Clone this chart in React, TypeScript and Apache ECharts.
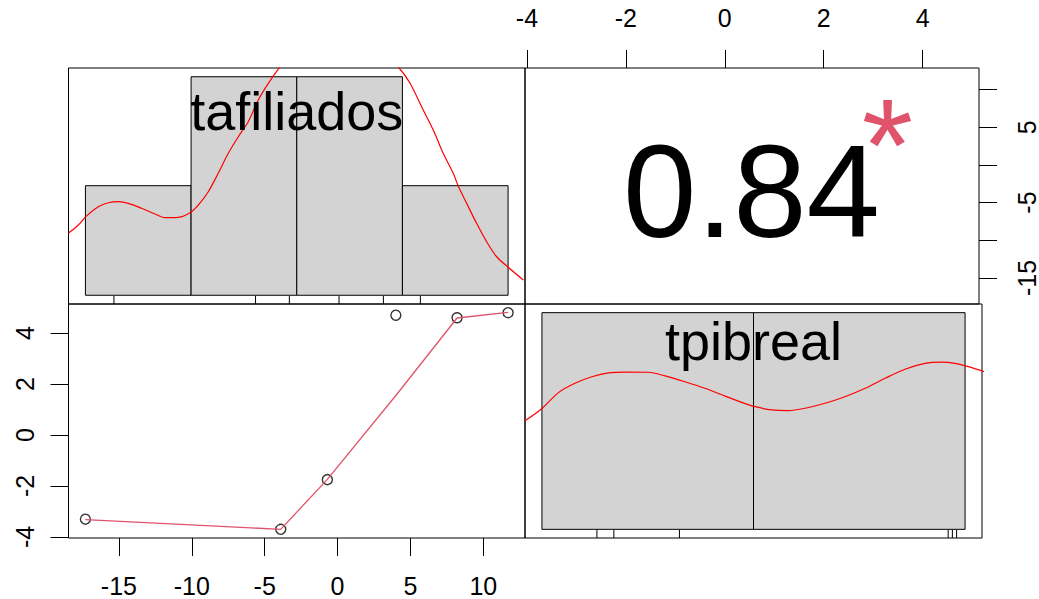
import React, { useEffect, useRef } from "react";
import * as echarts from "echarts";

// ---- data ----
const tafiliados = [-17.3, -3.9, -0.7, 4.0, 8.2, 11.7];
const tpibreal = [-3.3, -3.7, -1.75, 4.7, 4.6, 4.8];
const lowessFit = [-3.32, -3.7, -1.74, 1.55, 4.59, 4.81];

const tafBreaks = [-20, -10, 0, 10, 20];
const tafDensity = [0.0167, 0.0333, 0.0333, 0.0167];
const tpiBreaks = [-5, 0, 5];
const tpiDensity = [0.1, 0.1];

const tafKdeX = [-21.62, -20.67, -19.88, -18.78, -17.83, -16.89, -15.94, -14.67, -13.41, -12.47, -11.21, -10.1, -9.32, -8.37, -7.43, -6.48, -5.53, -4.59, -3.64, -2.69, -1.59, 0, 4, 8, 9.7, 10.72, 11.97, 12.92, 13.86, 14.81, 15.28, 16.08, 17.02, 17.97, 18.92, 20.01, 21.44];
const tafKdeY = [0.00944, 0.0107, 0.0121, 0.0135, 0.0141, 0.01426, 0.01401, 0.01325, 0.01238, 0.01182, 0.01188, 0.01258, 0.01375, 0.01578, 0.01859, 0.02163, 0.02416, 0.02645, 0.02976, 0.0323, 0.0348, 0.038, 0.039, 0.037, 0.03459, 0.0323, 0.02823, 0.02518, 0.02163, 0.01858, 0.01665, 0.01401, 0.01096, 0.00816, 0.00587, 0.00426, 0.00233];

const tpiKdeX = [-5.4, -5.02, -4.61, -4.22, -3.82, -3.43, -3.04, -2.49, -2.09, -1.62, -1.15, -0.67, -0.28, 0.04, 0.43, 0.82, 1.22, 1.69, 2.16, 2.64, 3.11, 3.58, 4.05, 4.45, 4.76, 5.08, 5.45];
const tpiKdeY = [0.0501, 0.0554, 0.0631, 0.0674, 0.0704, 0.0722, 0.0726, 0.0725, 0.0708, 0.0681, 0.0651, 0.0615, 0.0586, 0.0566, 0.0551, 0.0548, 0.0559, 0.0582, 0.0612, 0.0651, 0.0697, 0.0739, 0.0766, 0.0772, 0.0766, 0.0751, 0.0728];

const tafTicks = [-15, -10, -5, 0, 5, 10];
const tafRightLabels = [-15, -5, 5];
const tpiTicks = [-4, -2, 0, 2, 4];

const varNames = ["tafiliados", "tpibreal"];
const corrText = "0.84";
const signifText = "*";

// ---- helpers ----
const padRange = (lo: number, hi: number) => {
  const w = hi - lo;
  return [lo - 0.04 * w, hi + 0.04 * w];
};
const tafRange = padRange(Math.min(...tafiliados), Math.max(...tafiliados));
const tpiRange = padRange(Math.min(...tpibreal), Math.max(...tpibreal));
const tafHistX = padRange(tafBreaks[0], tafBreaks[tafBreaks.length - 1]);
const tpiHistX = padRange(tpiBreaks[0], tpiBreaks[tpiBreaks.length - 1]);
const tafHistY = padRange(0, Math.max(...tafDensity));
const tpiHistY = padRange(0, Math.max(...tpiDensity));

const FONT = '"Liberation Sans", Arial, Helvetica, sans-serif';

// panel geometry
const L = 68.5, M = 525, R = 982, T = 68, H = 304, B = 538;

const histItem = (params: any, api: any) => {
  const p0 = api.coord([api.value(0), api.value(2)]);
  const p1 = api.coord([api.value(1), 0]);
  return {
    type: "rect",
    shape: { x: p0[0], y: p0[1], width: p1[0] - p0[0], height: p1[1] - p0[1] },
    style: { fill: "#D3D3D3", stroke: "#000", lineWidth: 1 },
  };
};
const rugItem = (params: any, api: any) => {
  const p = api.coord([api.value(0), api.value(1)]);
  return {
    type: "line",
    shape: { x1: p[0], y1: p[1], x2: p[0], y2: p[1] - 8 },
    style: { stroke: "#000", lineWidth: 1 },
  };
};

const labelStyle = { fontSize: 25, color: "#000", fontFamily: FONT, margin: 34 };
const tickStyle = { show: true, length: 18, lineStyle: { color: "#000", width: 1 } };

export default function App() {
  const ref = useRef<HTMLDivElement>(null);
  useEffect(() => {
    if (!ref.current) return;
    const chart = echarts.init(ref.current, null, { renderer: "svg" });
    const gridBase = { show: true, borderColor: "#000", borderWidth: 1, backgroundColor: "transparent", containLabel: false };
    chart.setOption({
      animation: false,
      backgroundColor: "#fff",
      grid: [
        { ...gridBase, left: L, top: T, width: M - L, height: H - T },
        { ...gridBase, left: M, top: T, width: R - M, height: H - T },
        { ...gridBase, left: L, top: H, width: M - L, height: B - H },
        { ...gridBase, left: M, top: H, width: R - M, height: B - H },
      ],
      xAxis: [
        { gridIndex: 0, type: "value", min: tafHistX[0], max: tafHistX[1], show: false },
        {
          gridIndex: 1, type: "value", position: "top", min: tpiRange[0], max: tpiRange[1],
          axisLine: { show: false, onZero: false }, splitLine: { show: false },
          axisTick: { ...tickStyle, customValues: tpiTicks },
          axisLabel: { ...labelStyle, margin: 38, customValues: tpiTicks },
        },
        {
          gridIndex: 2, type: "value", position: "bottom", min: tafRange[0], max: tafRange[1],
          axisLine: { show: false, onZero: false }, splitLine: { show: false },
          axisTick: { ...tickStyle, customValues: tafTicks },
          axisLabel: { ...labelStyle, margin: 35, customValues: tafTicks },
        },
        { gridIndex: 3, type: "value", min: tpiHistX[0], max: tpiHistX[1], show: false },
      ],
      yAxis: [
        { gridIndex: 0, type: "value", min: tafHistY[0], max: tafHistY[1], show: false },
        {
          gridIndex: 1, type: "value", position: "right", min: tafRange[0], max: tafRange[1],
          axisLine: { show: false, onZero: false }, splitLine: { show: false },
          axisTick: { ...tickStyle, customValues: tafTicks },
          axisLabel: { ...labelStyle, margin: 35, rotate: 90, customValues: tafRightLabels },
        },
        {
          gridIndex: 2, type: "value", position: "left", min: tpiRange[0], max: tpiRange[1],
          axisLine: { show: false, onZero: false }, splitLine: { show: false },
          axisTick: { ...tickStyle, customValues: tpiTicks },
          axisLabel: { ...labelStyle, margin: 31, rotate: 90, customValues: tpiTicks },
        },
        { gridIndex: 3, type: "value", min: tpiHistY[0], max: tpiHistY[1], show: false },
      ],
      series: [
        {
          type: "custom", xAxisIndex: 0, yAxisIndex: 0, renderItem: histItem,
          encode: { x: [0, 1], y: 2 },
          data: tafDensity.map((d, i) => [tafBreaks[i], tafBreaks[i + 1], d]),
        },
        {
          type: "custom", xAxisIndex: 0, yAxisIndex: 0, renderItem: rugItem,
          encode: { x: 0, y: 1 },
          data: tafiliados.map((v) => [v, tafHistY[0]]),
        },
        {
          type: "line", xAxisIndex: 0, yAxisIndex: 0, showSymbol: false, smooth: 0.3, clip: true,
          lineStyle: { color: "#FF0000", width: 1.2 }, z: 3,
          data: tafKdeX.map((x, i) => [x, tafKdeY[i]]),
        },
        {
          type: "custom", xAxisIndex: 3, yAxisIndex: 3, renderItem: histItem,
          encode: { x: [0, 1], y: 2 },
          data: tpiDensity.map((d, i) => [tpiBreaks[i], tpiBreaks[i + 1], d]),
        },
        {
          type: "custom", xAxisIndex: 3, yAxisIndex: 3, renderItem: rugItem,
          encode: { x: 0, y: 1 },
          data: tpibreal.map((v) => [v, tpiHistY[0]]),
        },
        {
          type: "line", xAxisIndex: 3, yAxisIndex: 3, showSymbol: false, smooth: 0.3, clip: true,
          lineStyle: { color: "#FF0000", width: 1.2 }, z: 3,
          data: tpiKdeX.map((x, i) => [x, tpiKdeY[i]]),
        },
        {
          type: "scatter", xAxisIndex: 2, yAxisIndex: 2, symbol: "circle", symbolSize: 10,
          itemStyle: { color: "rgba(0,0,0,0)", borderColor: "#000", borderWidth: 1.4 },
          data: tafiliados.map((x, i) => [x, tpibreal[i]]),
        },
        {
          type: "line", xAxisIndex: 2, yAxisIndex: 2, showSymbol: false, z: 4,
          lineStyle: { color: "#DF536B", width: 1.3 },
          data: tafiliados.map((x, i) => [x, lowessFit[i]]),
        },
      ],
      graphic: [
        {
          type: "text", x: (L + M) / 2, y: 111, z: 100,
          style: { text: varNames[0], fontSize: 54, fontFamily: FONT, fill: "#000", align: "center", verticalAlign: "middle" },
        },
        {
          type: "text", x: (M + R) / 2, y: 341, z: 100,
          style: { text: varNames[1], fontSize: 54, fontFamily: FONT, fill: "#000", align: "center", verticalAlign: "middle" },
        },
        {
          type: "text", x: (M + R) / 2 - 2, y: 191, z: 100,
          style: { text: corrText, fontSize: 132, fontFamily: FONT, fill: "#000", align: "center", verticalAlign: "middle" },
        },
        {
          type: "text", x: 887.5, y: 145, z: 100,
          style: { text: signifText, fontSize: 132, fontFamily: FONT, fill: "#DF536B", align: "center", verticalAlign: "middle" },
        },
      ],
    });
    return () => chart.dispose();
  }, []);
  return (
    <div
      ref={ref}
      style={{ position: "fixed", left: 0, top: 0, width: 1039, height: 599, background: "#fff" }}
    />
  );
}
